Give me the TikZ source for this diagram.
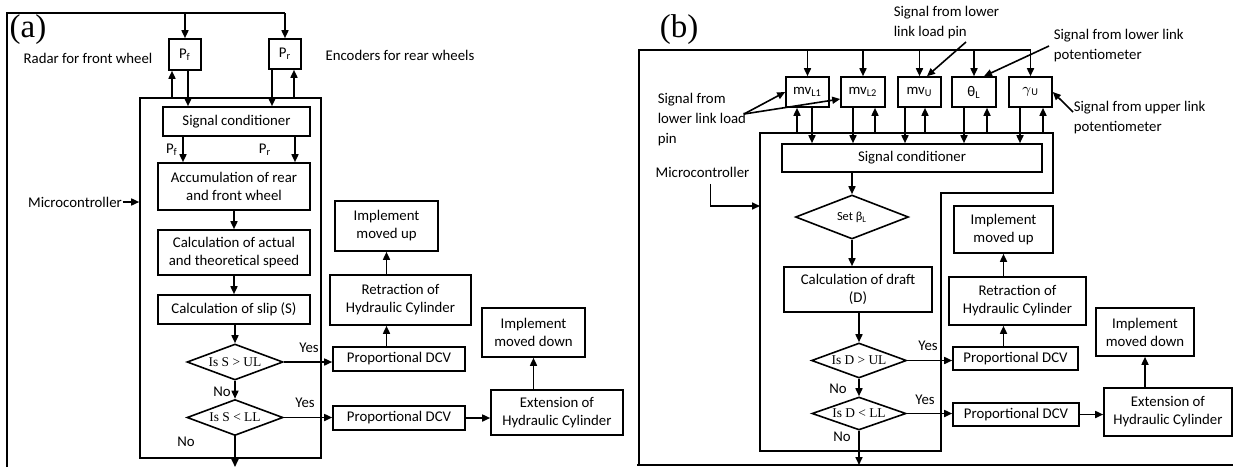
\documentclass[tikz,border=0pt]{standalone}
\usepackage{fontspec}
\setmainfont{Carlito}
\newfontfamily\tnr{Liberation Serif}
\usetikzlibrary{shapes.geometric,arrows.meta}
\newcommand{\dtext}[1]{\makebox[0pt]{\raisebox{-1.5pt}{\tnr\fontsize{6.7}{7}\selectfont #1}}}
\tikzset{>={Triangle[length=4pt,width=3.5pt]},
  box/.style={draw,align=center,inner sep=0pt},
  decision/.style={diamond,draw,inner sep=0pt},
  lbl/.style={align=left,inner sep=0pt,font=\fontsize{7.4}{10}\selectfont},
  panel/.style={font=\tnr\fontsize{16.5}{16.5}\selectfont}}

\begin{document}
\begin{tikzpicture}[x=0.5pt,y=-0.5pt,line width=0.8pt,font=\fontsize{7.4}{9}\selectfont]
\useasboundingbox (0,0) rectangle (1233,467);

% (a) slip control
\node[panel] (lab_a) at (28,30) {(a)};
\coordinate (top_a) at (7,13);
\node[box,minimum width=16pt,minimum height=15.5pt] (P_f) at (185,54.5) {P\textsubscript{f}};
\node[box,minimum width=16pt,minimum height=15pt] (P_r) at (285,54) {P\textsubscript{r}};
\node[lbl] (radar) at (88,58) {Radar for front wheel};
\node[lbl] (enc) at (400,55) {Encoders for rear wheels};
\node[box,minimum width=90.5pt,minimum height=180pt] (mc_a) at (230.5,278) {};
\node[lbl] (mctext_a) at (75,202) {Microcontroller};
\node[box,minimum width=73.5pt,minimum height=14.5pt] (sc_a) at (236.5,121.5) {Signal conditioner};
\node[box,minimum width=76pt,minimum height=23.5pt] (acc_a) at (234,186.5) {Accumulation of rear\\and front wheel};
\node[box,minimum width=76pt,minimum height=22.5pt] (spd_a) at (234,252.5) {Calculation of actual\\and theoretical speed};
\node[box,minimum width=76pt,minimum height=14.5pt] (slip_a) at (234,309.5) {Calculation of slip (S)};
\node[decision,minimum width=48pt,minimum height=18pt] (up_a) at (235,362) {\dtext{Is S > UL}};
\node[decision,minimum width=48pt,minimum height=18pt] (low_a) at (235,417.5) {\dtext{Is S < LL}};
\coordinate (out_a) at (235,467);
\node[box,minimum width=66pt,minimum height=12pt] (dcv1_a) at (399,359) {Proportional DCV};
\node[box,minimum width=66pt,minimum height=12pt] (dcv2_a) at (399,418) {Proportional DCV};
\node[box,minimum width=70.5pt,minimum height=25pt] (ret_a) at (400.5,300) {Retraction of\\Hydraulic Cylinder};
\node[box,minimum width=51.5pt,minimum height=25pt] (imu_a) at (386.5,226) {Implement\\moved up};
\node[box,minimum width=66pt,minimum height=22.5pt] (ext_a) at (557,412.5) {Extension of\\Hydraulic Cylinder};
\node[box,minimum width=51.5pt,minimum height=24.5pt] (imd_a) at (533.5,332.5) {Implement\\moved down};
\node (y1_a) at (309,348) {Yes};
\node (n1_a) at (222,392) {No};
\node (y2_a) at (305,403) {Yes};
\node (n2_a) at (186,442) {No};
\node (pf_a) at (172,150) {P\textsubscript{f}};
\node (pr_a) at (265,150) {P\textsubscript{r}};

\draw (7,467) -- (top_a) -- (P_r.north |- top_a);
\draw[->] (P_f.north |- top_a) -- (P_f.north);
\draw[->] (P_r.north |- top_a) -- (P_r.north);
\draw[->] ([xshift=-6.5pt]P_f.south |- mc_a.north) -- ([xshift=-6.5pt]P_f.south);
\draw[->] ([xshift=1.5pt]P_f.south) -- ([xshift=1.5pt]P_f.south |- sc_a.north);
\draw[->] ([xshift=-6.5pt]P_r.south) -- ([xshift=-6.5pt]P_r.south |- sc_a.north);
\draw[->] ([xshift=4.5pt]P_r.south |- mc_a.north) -- ([xshift=4.5pt]P_r.south);
\draw[->] ([xshift=-26.75pt]sc_a.south) -- ([xshift=-26.75pt]sc_a.south |- acc_a.north);
\draw[->] ([xshift=29.25pt]sc_a.south) -- ([xshift=29.25pt]sc_a.south |- acc_a.north);
\draw[->] (acc_a) -- (spd_a);
\draw[->] (spd_a) -- (slip_a);
\draw[->] (up_a.north |- slip_a.south) -- (up_a.north);
\draw[->] (up_a) -- (low_a);
\draw[->] (low_a.south) -- (out_a);
\draw[->] (mctext_a.east) -- (mctext_a.east -| mc_a.west);
\draw[->] (up_a.east) -- (up_a.east -| dcv1_a.west);
\draw[->] (low_a.east) -- (low_a.east -| dcv2_a.west);
\draw[->] (dcv2_a.east) -- (dcv2_a.east -| ext_a.west);
\draw[->] (imd_a.south |- ext_a.north) -- (imd_a.south);
\draw[->] (imu_a.south |- dcv1_a.north) -- (imu_a.south |- ret_a.south);
\draw[->] (imu_a.south |- ret_a.north) -- (imu_a.south);

% (b) draft control
\node[panel] (lab_b) at (679,30) {(b)};
\coordinate (top_b) at (639,50);
\coordinate (mcb_nw) at (760,133);
\coordinate (mcb_in) at (760,206);
\node[box,minimum width=21.5pt,minimum height=15pt] (mv_L1) at (807.5,92) {mv\textsubscript{L1}};
\node[box,minimum width=22pt,minimum height=15pt] (mv_L2) at (863,92) {mv\textsubscript{L2}};
\node[box,minimum width=21.5pt,minimum height=15pt] (mv_U) at (919.5,92) {mv\textsubscript{U}};
\node[box,minimum width=22pt,minimum height=15pt] (th_L) at (974,92) {θ\textsubscript{L}};
\node[box,minimum width=21.5pt,minimum height=15pt] (ga_U) at (1030.5,92) {$\gamma$\textsubscript{U}};
\node[box,minimum width=130pt,minimum height=14pt] (sc_b) at (912,158) {Signal conditioner};
\node[decision,minimum width=56.5pt,minimum height=22pt] (set_b) at (852,217) {\makebox[0pt]{\fontsize{6.2}{7}\selectfont Set β\textsubscript{L}}};
\node[box,minimum width=74pt,minimum height=22.5pt] (draft_b) at (858,289.5) {Calculation of draft\\(D)};
\node[decision,minimum width=47.5pt,minimum height=17.5pt] (up_b) at (859,360.5) {\dtext{Is D > UL}};
\node[decision,minimum width=47pt,minimum height=16.5pt] (low_b) at (859,413.5) {\dtext{Is D < LL}};
\coordinate (out_b) at (859,465);
\node[box,minimum width=62.5pt,minimum height=11.5pt] (dcv1_b) at (1015.5,358.5) {Proportional DCV};
\node[box,minimum width=63pt,minimum height=11.5pt] (dcv2_b) at (1016,414.5) {Proportional DCV};
\node[box,minimum width=68.5pt,minimum height=24pt] (ret_b) at (1017.5,301) {Retraction of\\Hydraulic Cylinder};
\node[box,minimum width=49.5pt,minimum height=23.5pt] (imu_b) at (1003.5,229.5) {Implement\\moved up};
\node[box,minimum width=49pt,minimum height=24pt] (imd_b) at (1145,332) {Implement\\moved down};
\node[box,minimum width=64pt,minimum height=24pt] (ext_b) at (1168,412) {Extension of\\Hydraulic Cylinder};
\node[lbl] (mctext_b) at (702.5,172) {Microcontroller};
\node[lbl,anchor=west] (pin_l) at (657,120) {Signal from\\lower link load\\pin};
\node[lbl,anchor=west] (pin_t) at (893,23) {Signal from lower\\link load pin};
\node[lbl,anchor=west] (pot_l) at (1053,46) {Signal from lower link\\potentiometer};
\node[lbl,anchor=west] (pot_u) at (1073,118) {Signal from upper link\\potentiometer};
\node (y1_b) at (928,346) {Yes};
\node (n1_b) at (838,389) {No};
\node (y2_b) at (925,400) {Yes};
\node (n2_b) at (842,437) {No};
\coordinate (pin_src) at (744,114);
\coordinate (pin_top) at (966,42);

\draw (639,465) -- (top_b) -- (ga_U.north |- top_b);
\draw[line width=1.4pt] (637,465) -- (1233,465);
\draw (mcb_nw) -- (1053,133) -- (1053,193) -- (941,193) -- (941,451) -- (760,451) -- cycle;
\draw[->] (mv_L1.north |- top_b) -- (mv_L1.north);
\draw[->] (mv_L2.north |- top_b) -- (mv_L2.north);
\draw[->] (mv_U.north |- top_b) -- (mv_U.north);
\draw[->] (th_L.north |- top_b) -- (th_L.north);
\draw[->] (ga_U.north |- top_b) -- (ga_U.north);
\draw[->] ([xshift=-5.25pt]mv_L1.south |- mcb_nw) -- ([xshift=-5.25pt]mv_L1.south);
\draw[->] ([xshift=2.25pt]mv_L1.south) -- ([xshift=2.25pt]mv_L1.south |- sc_b.north);
\draw[->] ([xshift=-5pt]mv_L2.south) -- ([xshift=-5pt]mv_L2.south |- sc_b.north);
\draw[->] ([xshift=6pt]mv_L2.south |- mcb_nw) -- ([xshift=6pt]mv_L2.south);
\draw[->] ([xshift=-7.25pt]mv_U.south) -- ([xshift=-7.25pt]mv_U.south |- sc_b.north);
\draw[->] ([xshift=2.75pt]mv_U.south |- mcb_nw) -- ([xshift=2.75pt]mv_U.south);
\draw[->] ([xshift=-5pt]th_L.south) -- ([xshift=-5pt]th_L.south |- sc_b.north);
\draw[->] ([xshift=6.5pt]th_L.south |- mcb_nw) -- ([xshift=6.5pt]th_L.south);
\draw[->] ([xshift=-5.25pt]ga_U.south) -- ([xshift=-5.25pt]ga_U.south |- sc_b.north);
\draw[->] ([xshift=6.25pt]ga_U.south |- mcb_nw) -- ([xshift=6.25pt]ga_U.south);
\draw[->] (set_b.north |- sc_b.south) -- (set_b.north);
\draw[->] (set_b.south) -- (set_b.south |- draft_b.north);
\draw[->] (up_b.north |- draft_b.south) -- (up_b.north);
\draw[->] (up_b) -- (low_b);
\draw[->] (low_b.south) -- (out_b);
\draw[->] (up_b.east) -- (up_b.east -| dcv1_b.west);
\draw[->] (low_b.east) -- (low_b.east -| dcv2_b.west);
\draw[->] (dcv2_b.east) -- (dcv2_b.east -| ext_b.west);
\draw[->] (imd_b.south |- ext_b.north) -- (imd_b.south);
\draw[->] (imu_b.south |- dcv1_b.north) -- (imu_b.south |- ret_b.south);
\draw[->] (imu_b.south |- ret_b.north) -- (imu_b.south);
\draw[->] ([xshift=4pt,yshift=-3pt]mctext_b.south) |- (mcb_in);
\draw[->] (pin_src) -- (mv_L1.west);
\draw[->] (pin_src) -- ([yshift=-3.5pt]mv_L2.west);
\draw[->] (pin_top) -- ([xshift=3.75pt]mv_U.north);
\draw[->] ([xshift=-2pt]pot_l.west) -- ([xshift=5pt]th_L.north);
\draw[->] ([yshift=3pt]pot_u.west) -- (ga_U.east);
\end{tikzpicture}
\end{document}
